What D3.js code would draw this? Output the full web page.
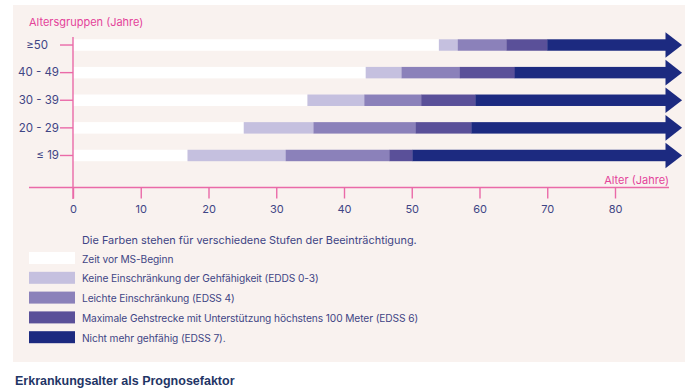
<!DOCTYPE html>
<html>
<head>
<meta charset="utf-8">
<script src="https://cdn.jsdelivr.net/npm/d3@7"></script>
<style>
  body { margin: 0; background: #fff; }
  svg { display: block; }
  .tick text { font-family: Inter, "Noto Sans", sans-serif; }
</style>
</head>
<body>
<svg id="chartSVG" width="700" height="389"></svg>
<script>
// age groups, top to bottom
var groups = ["≥50", "40 - 49", "30 - 39", "20 - 29", "≤ 19"];
// age (years) where each stage ends, per group
var endMsStart = [54, 43.2, 34.6, 25.2, 16.9];
var endEdss03  = [56.8, 48.5, 43, 35.5, 31.4];
var endEdss4   = [64, 57.1, 51.4, 50.6, 46.7];
var endEdss6   = [70, 65.2, 59.4, 58.8, 50.1];
var arrowEnd = 87.6;   // end of the arrow shaft
var arrowTip = 89.9;
var xTicks = [0, 10, 20, 30, 40, 50, 60, 70, 80];

var stageNames = [
  "Zeit vor MS-Beginn",
  "Keine Einschränkung der Gehfähigkeit (EDDS 0-3)",
  "Leichte Einschränkung (EDSS 4)",
  "Maximale Gehstrecke mit Unterstützung höchstens 100 Meter (EDSS 6)",
  "Nicht mehr gehfähig (EDSS 7)."
];
var stageColors = ["#ffffff", "#c5c0df", "#8b81ba", "#5a5099", "#1c2a80"];

var pink = "#ea6aa8", pinkText = "#e4439a", textCol = "#3f4585";
var font = "Inter, 'Noto Sans', sans-serif";

var svg = d3.select("#chartSVG");

svg.append("rect").attr("x", 13).attr("y", 5).attr("width", 672).attr("height", 357)
  .attr("fill", "#f9f2ef");

var x = d3.scaleLinear().domain([0, 80]).range([73, 615]);
var y = d3.scaleBand().domain(groups).range([31, 169.5]).paddingInner(0.585).paddingOuter(0.3);

// build stacked segments
var rows = groups.map(function(g, i) {
  var edges = [0, endMsStart[i], endEdss03[i], endEdss4[i], endEdss6[i], arrowEnd];
  var segs = [];
  for (var k = 0; k < 5; k++) segs.push({ group: g, k: k, x0: edges[k], x1: edges[k + 1] });
  return segs;
});

var g = svg.append("g");

var row = g.selectAll(".row").data(rows).enter().append("g").attr("class", "row");
row.selectAll("rect").data(function(d) { return d; }).enter().append("rect")
  .attr("x", function(d) { return x(d.x0); })
  .attr("width", function(d) { return x(d.x1) - x(d.x0) + (d.k < 4 ? 0.3 : 0); })
  .attr("y", function(d) { return y(d.group); })
  .attr("height", y.bandwidth())
  .attr("fill", function(d) { return stageColors[d.k]; });

// arrow heads
var headHalf = 12.8;
g.selectAll(".head").data(groups).enter().append("path")
  .attr("class", "head")
  .attr("fill", stageColors[4])
  .attr("d", function(d) {
    var cy = y(d) + y.bandwidth() / 2;
    return "M" + (x(arrowEnd) - 1) + "," + (cy - headHalf) + "L" + x(arrowTip) + "," + cy +
      "L" + (x(arrowEnd) - 1) + "," + (cy + headHalf) + "Z";
  });

// y axis
var yAxis = svg.append("g").attr("transform", "translate(73,0)")
  .call(d3.axisLeft(y).tickSize(13).tickPadding(1));
yAxis.select(".domain").remove();
yAxis.selectAll(".tick line").attr("stroke", pink).attr("stroke-width", 1.4);
yAxis.selectAll(".tick text").attr("fill", textCol).attr("font-size", 11.5)
  .attr("dx", function(d, i) { return i === 0 ? -11 : 0; });
svg.append("line").attr("x1", 73).attr("x2", 73).attr("y1", 37).attr("y2", 199)
  .attr("stroke", pink).attr("stroke-width", 1.4);

// x axis
var xAxis = svg.append("g").attr("transform", "translate(0,187.5)")
  .call(d3.axisBottom(x).tickValues(xTicks).tickSize(11).tickPadding(7));
xAxis.select(".domain").remove();
xAxis.selectAll(".tick line").attr("stroke", pink).attr("stroke-width", 1.4);
xAxis.selectAll(".tick text").attr("fill", textCol).attr("font-size", 11);
svg.append("line").attr("x1", 29).attr("x2", 669).attr("y1", 187.5).attr("y2", 187.5)
  .attr("stroke", pink).attr("stroke-width", 1.4);

svg.append("text").attr("x", 29).attr("y", 26).attr("fill", pinkText)
  .attr("font-family", font).attr("font-size", 11).text("Altersgruppen (Jahre)");
svg.append("text").attr("x", 669).attr("y", 184).attr("text-anchor", "end").attr("fill", pinkText)
  .attr("font-family", font).attr("font-size", 11).text("Alter (Jahre)");

// legend
svg.append("text").attr("x", 82).attr("y", 244).attr("fill", textCol)
  .attr("font-family", font).attr("font-size", 10.9)
  .text("Die Farben stehen für verschiedene Stufen der Beeinträchtigung.");
var leg = svg.selectAll(".leg").data(stageNames).enter().append("g").attr("class", "leg")
  .attr("transform", function(d, i) { return "translate(0," + (252 + i * 19.8) + ")"; });
leg.append("rect").attr("x", 29).attr("width", 46).attr("height", 12)
  .attr("fill", function(d, i) { return stageColors[i]; });
leg.append("text").attr("x", 82).attr("y", 10.5).attr("fill", textCol)
  .attr("font-family", font).attr("font-size", 10.2).attr("letter-spacing", -0.1)
  .text(function(d) { return d; });

svg.append("text").attr("x", 15).attr("y", 385).attr("fill", "#1f3566")
  .attr("font-family", "Arial, 'Liberation Sans', sans-serif").attr("font-weight", "bold")
  .attr("font-size", 12.5).text("Erkrankungsalter als Prognosefaktor");
</script>
</body>
</html>
